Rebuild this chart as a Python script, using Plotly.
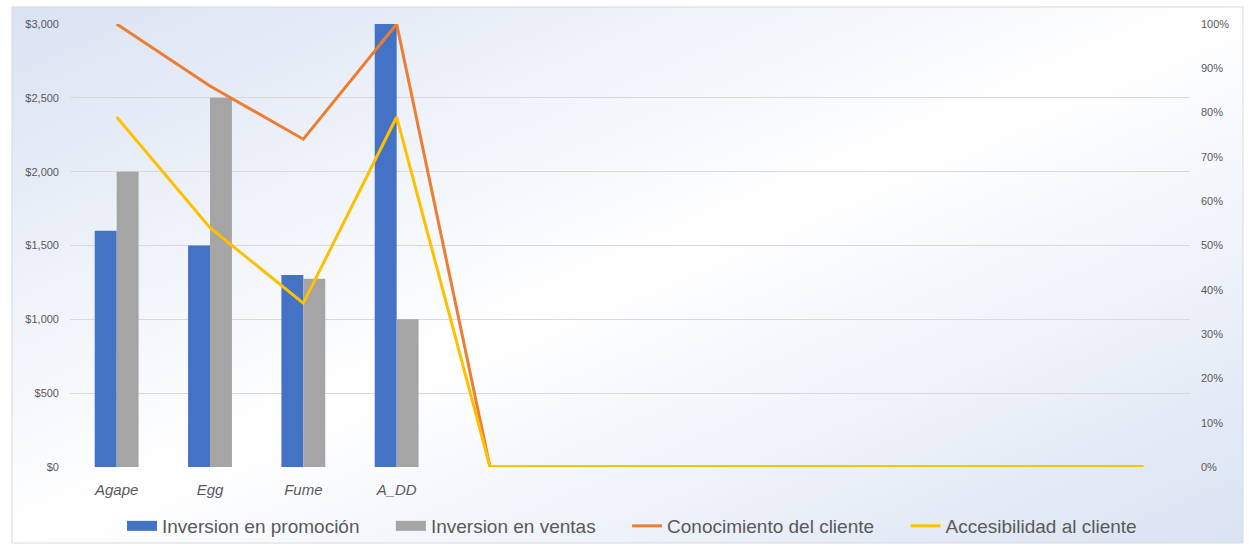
import base64
import plotly.graph_objects as go

categories = ['Agape', 'Egg', 'Fume', 'A_DD', '', '', '', '', '', '', '', '']
promocion = [1600, 1500, 1300, 3000, None, None, None, None, None, None, None, None]
ventas = [2000, 2500, 1275, 1000, None, None, None, None, None, None, None, None]
conocimiento = [1.00, 0.86, 0.74, 1.00, 0, 0, 0, 0, 0, 0, 0, 0]
accesibilidad = [0.79, 0.54, 0.37, 0.79, 0, 0, 0, 0, 0, 0, 0, 0]

left_ticks = [0, 500, 1000, 1500, 2000, 2500, 3000]
left_labels = ['$0', '$500', '$1,000', '$1,500', '$2,000', '$2,500', '$3,000']
right_ticks = [i / 10 for i in range(11)]
right_labels = ['%d%%' % (i * 10) for i in range(11)]

x = list(range(len(categories)))
grey_txt = '#595959'
font = 'Liberation Sans, Arial, sans-serif'
blue, grey, orange, yellow = '#4472c4', '#a5a5a5', '#ed7d31', '#ffc000'
pad = '&nbsp;' * 5

# soft diagonal gradient like the office chart style
svg = ('<svg xmlns="http://www.w3.org/2000/svg" width="100" height="100" preserveAspectRatio="none">'
       '<defs><linearGradient id="g" x1="0" y1="0" x2="1" y2="1">'
       '<stop offset="0" stop-color="#dae3f3"/><stop offset="0.5" stop-color="#ffffff"/>'
       '<stop offset="1" stop-color="#dae3f3"/></linearGradient></defs>'
       '<rect width="100" height="100" fill="url(#g)"/></svg>')
bg_src = 'data:image/svg+xml;base64,' + base64.b64encode(svg.encode()).decode()

fig = go.Figure()

fig.add_trace(go.Bar(x=x, y=promocion, name='Inversion en promoción', showlegend=False,
                     marker=dict(color=blue, line=dict(width=0))))
fig.add_trace(go.Bar(x=x, y=ventas, name='Inversion en ventas', showlegend=False,
                     marker=dict(color=grey, line=dict(width=0))))
fig.add_trace(go.Scatter(x=x, y=conocimiento, name='Conocimiento del cliente', yaxis='y2',
                         mode='lines', line=dict(color=orange, width=3), showlegend=False))
fig.add_trace(go.Scatter(x=x, y=accesibilidad, name='Accesibilidad al cliente', yaxis='y2',
                         mode='lines', line=dict(color=yellow, width=3), showlegend=False))

# legend entries (wide swatches for the bars, like the original)
for name, col, w in [('Inversion en promoción' + pad, blue, 12),
                     ('Inversion en ventas' + pad, grey, 12),
                     ('Conocimiento del cliente' + pad, orange, 3),
                     ('Accesibilidad al cliente', yellow, 3)]:
    fig.add_trace(go.Scatter(x=[None], y=[None], name=name, mode='lines',
                             line=dict(color=col, width=w), hoverinfo='skip'))

fig.update_layout(
    width=1249, height=546,
    margin=dict(l=70, r=59, t=24, b=79),
    paper_bgcolor='white',
    plot_bgcolor='rgba(0,0,0,0)',
    barmode='group',
    bargap=0.53,
    bargroupgap=0,
    font=dict(family=font, color=grey_txt),
    xaxis=dict(
        tickmode='array', tickvals=x, ticktext=['<i>%s</i>' % c for c in categories],
        range=[-0.5, len(categories) - 0.5], automargin=False,
        showgrid=False, zeroline=False, showline=False, ticks='',
        tickfont=dict(size=15, color=grey_txt), ticklabelstandoff=12,
    ),
    yaxis=dict(
        range=[0, 3000], tickvals=left_ticks, ticktext=left_labels, automargin=False,
        showgrid=True, gridcolor='#d9d9d9', gridwidth=1, zeroline=False,
        tickfont=dict(size=11, color=grey_txt), ticks='', ticklabelstandoff=10,
    ),
    yaxis2=dict(
        range=[0, 1], tickvals=right_ticks, ticktext=right_labels, automargin=False,
        overlaying='y', side='right', showgrid=False, zeroline=False,
        tickfont=dict(size=11, color=grey_txt), ticks='', ticklabelstandoff=10,
    ),
    legend=dict(
        orientation='h', xref='container', yref='container',
        x=122 / 1249, xanchor='left', y=20 / 546, yanchor='middle',
        font=dict(size=19, color=grey_txt), bgcolor='rgba(0,0,0,0)',
        traceorder='normal', itemwidth=30,
    ),
    showlegend=True,
    images=[dict(source=bg_src, xref='paper', yref='paper',
                 x=-0.0518, y=1.0384, sizex=1.0991, sizey=1.21,
                 sizing='stretch', layer='below', xanchor='left', yanchor='top')],
    shapes=[dict(type='rect', xref='paper', yref='paper',
                 x0=-0.0518, x1=1.0473, y0=-0.1716, y1=1.0384,
                 line=dict(color='#d9d9d9', width=1), fillcolor='rgba(0,0,0,0)',
                 layer='below')],
)

fig.write_html('out.html', config={'displayModeBar': False},
               post_script="document.body.style.margin='0';")
